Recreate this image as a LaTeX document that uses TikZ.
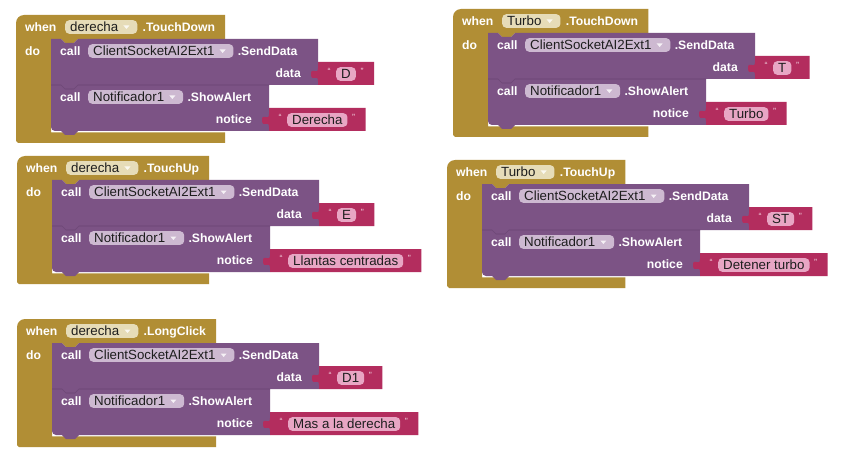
\documentclass[tikz,border=0pt]{standalone}
\usepackage{fontspec}
\setmainfont{Liberation Sans}
\usetikzlibrary{calc}

\definecolor{ctlgold}{HTML}{B18E35}
\definecolor{cmppurple}{HTML}{7C5385}
\definecolor{txtmag}{HTML}{B32D5E}
\definecolor{ddgold}{HTML}{E6DCB8}
\definecolor{ddpurple}{HTML}{CDB9D1}
\definecolor{fldpink}{HTML}{E8A6C4}
\definecolor{quotepink}{HTML}{F3D3E0}
\definecolor{seppurple}{HTML}{6A4473}
\definecolor{fldtext}{HTML}{1E1E1E}

\newcommand\lblfont{\fontsize{12.2}{14}\selectfont\bfseries}
\newcommand\fldfont{\fontsize{13.3}{15}\selectfont}

% block bodies sit on layers below the texts
\pgfdeclarelayer{goldL}
\pgfdeclarelayer{purpleL}
\pgfdeclarelayer{magL}
\pgfsetlayers{goldL,purpleL,magL,main}

\tikzset{
  lbl/.style={font=\lblfont, text=white, inner sep=0pt, text height=8.8pt, text depth=0pt, anchor=west},
  fieldbox/.style={font=\fldfont, text=fldtext, inner xsep=5pt, inner ysep=2pt,
                   text height=9.6pt, text depth=0pt, rounded corners=4pt, anchor=west},
  ddarrow/.style={fill=white, fill opacity=0.8},
  qmark/.style={font=\fontsize{9}{9}\selectfont, text=quotepink, inner sep=0pt, anchor=base},
}

% x of a node anchor, in picture units, into a macro
\newcommand\xof[2]{\path (#1); \pgfgetlastxy{\tmpx}{\tmpy}\pgfmathsetmacro#2{\tmpx}}

% dropdown field: name, x, y, fill, text
\newcommand\dropdown[5]{%
  \node[fieldbox, fill=#4] (#1) at (#2,#3) {#5\kern14pt\relax};
  \fill[ddarrow] ($(#1.east)+(-14,-1.5)$) -- ++(6,0) -- ++(-3,3.5) -- cycle;
}

% text literal block: name, body left x, top y, text
\newcommand\txtblk[4]{%
  \pgfmathsetmacro\tL{#2}%
  \pgfmathsetmacro\tT{#3}%
  \pgfmathsetmacro\tB{#3+23}%
  \node[qmark] (#1open) at (\tL+11,\tT+12.4) {“};
  \node[fieldbox, fill=fldpink] (#1) at (\tL+18,\tT+12) {#4};
  \xof{#1.east}{\fE}%
  \node[qmark] (#1close) at (\fE+6,\tT+12.4) {”};
  \begin{pgfonlayer}{magL}
  \fill[txtmag] (\tL,\tT) -- (\fE+18,\tT) -- (\fE+18,\tB) -- (\tL,\tB) -- (\tL,\tT+19)
     .. controls (\tL,\tT+11) and (\tL-7,\tT+21) .. (\tL-7,\tT+12)
     .. controls (\tL-7,\tT+4) and (\tL,\tT+14) .. (\tL,\tT+6) -- cycle;
  \end{pgfonlayer}
}

% purple statement body: left, top, right, bottom-left radius
\newcommand\purpleshape[4]{%
  \fill[cmppurple] (#1,#2) -- (#1+10,#2) -- (#1+14,#2+4) -- (#1+23,#2+4) -- (#1+27,#2)
     -- (#3,#2) -- (#3,#2+46) -- (#1+27,#2+46) -- (#1+23,#2+50) -- (#1+14,#2+50)
     -- (#1+10,#2+46) -- (#1+#4,#2+46)
     .. controls (#1+0.45*#4,#2+46) and (#1,#2+46-0.45*#4) .. (#1,#2+46-#4) -- cycle;
}

% call ClientSocketAI2Ext1.SendData: id, left, top, value
\newcommand\callsend[4]{%
  \pgfmathsetmacro\cR{#2+267}%
  \begin{pgfonlayer}{purpleL}\purpleshape{#2}{#3}{\cR}{0}\end{pgfonlayer}
  \node[lbl] (#1call) at (#2+9,#3+12) {call};
  \dropdown{#1comp}{#2+37}{#3+12}{ddpurple}{ClientSocketAI2Ext1}
  \node[lbl] (#1meth) at ($(#1comp.east)+(4,0)$) {.SendData};
  \node[lbl, anchor=east] (#1arg) at (\cR-17,#3+34) {data};
  \txtblk{#1val}{\cR}{#3+23}{#4}
}

% call Notificador1.ShowAlert: id, left, top, value
\newcommand\callalert[4]{%
  \pgfmathsetmacro\cR{#2+218}%
  \begin{pgfonlayer}{purpleL}
  \purpleshape{#2}{#3}{\cR}{4}%
  \draw[seppurple, line width=0.6pt] (#2,#3) -- (#2+10,#3) -- (#2+14,#3+4) -- (#2+23,#3+4)
     -- (#2+27,#3) -- (\cR,#3);
  \end{pgfonlayer}
  \node[lbl] (#1call) at (#2+9,#3+12) {call};
  \dropdown{#1comp}{#2+37}{#3+12}{ddpurple}{Notificador1}
  \node[lbl] (#1meth) at ($(#1comp.east)+(4,0)$) {.ShowAlert};
  \node[lbl, anchor=east] (#1arg) at (\cR-17,#3+34) {notice};
  \txtblk{#1val}{\cR}{#3+23}{#4}
}

% event handler: id, left, top, component, event, data value, notice value
\newcommand\eventblk[7]{%
  \pgfmathsetmacro\gL{#2}%
  \pgfmathsetmacro\gT{#3}%
  \pgfmathsetmacro\gCL{#2+35}%
  \pgfmathsetmacro\gHb{#3+24}%
  \pgfmathsetmacro\gFb{#3+24+93.3}%
  \pgfmathsetmacro\gB{#3+24+104}%
  \node[lbl] (#1when) at (\gL+9,\gT+12) {when};
  \dropdown{#1comp}{\gL+49}{\gT+12}{ddgold}{#4}
  \node[lbl] (#1evt) at ($(#1comp.east)+(5,0)$) {#5};
  \node[lbl] (#1do) at (\gL+9,\gHb+12) {do};
  \xof{#1evt.east}{\gE}%
  \pgfmathsetmacro\gR{\gE+10}%
  \begin{pgfonlayer}{goldL}
  \fill[ctlgold] (\gL,\gT+8) .. controls (\gL,\gT+3.6) and (\gL+3.6,\gT) .. (\gL+8,\gT)
     -- (\gR,\gT) -- (\gR,\gHb) -- (\gCL+27,\gHb) -- (\gCL+23,\gHb+4) -- (\gCL+14,\gHb+4)
     -- (\gCL+10,\gHb) -- (\gCL,\gHb) -- (\gCL,\gFb) -- (\gR,\gFb) -- (\gR,\gB)
     -- (\gL+2,\gB) -- (\gL,\gB-2) -- cycle;
  \end{pgfonlayer}
  \pgfmathsetmacro\sCL{\gCL}%
  \pgfmathsetmacro\sT{\gHb}%
  \pgfmathsetmacro\aT{\gHb+46}%
  \callsend{#1s}{\sCL}{\sT}{#6}
  \callalert{#1a}{\sCL}{\aT}{#7}
}

\begin{document}
\begin{tikzpicture}[x=1pt, y=-1pt]
  \begin{pgfonlayer}{goldL}
  \fill[white] (0,0) rectangle (853,473);
  \end{pgfonlayer}
  \useasboundingbox (0,0) rectangle (853,473);

  \eventblk{rdown}{16}{15}{derecha}{.TouchDown}{D}{Derecha}
  \eventblk{tdown}{453}{9}{Turbo}{.TouchDown}{T}{Turbo}
  \eventblk{rup}{17}{156}{derecha}{.TouchUp}{E}{Llantas centradas}
  \eventblk{tup}{447}{160}{Turbo}{.TouchUp}{ST}{Detener turbo}
  \eventblk{rlong}{17}{319}{derecha}{.LongClick}{D1}{Mas a la derecha}
\end{tikzpicture}
\end{document}
